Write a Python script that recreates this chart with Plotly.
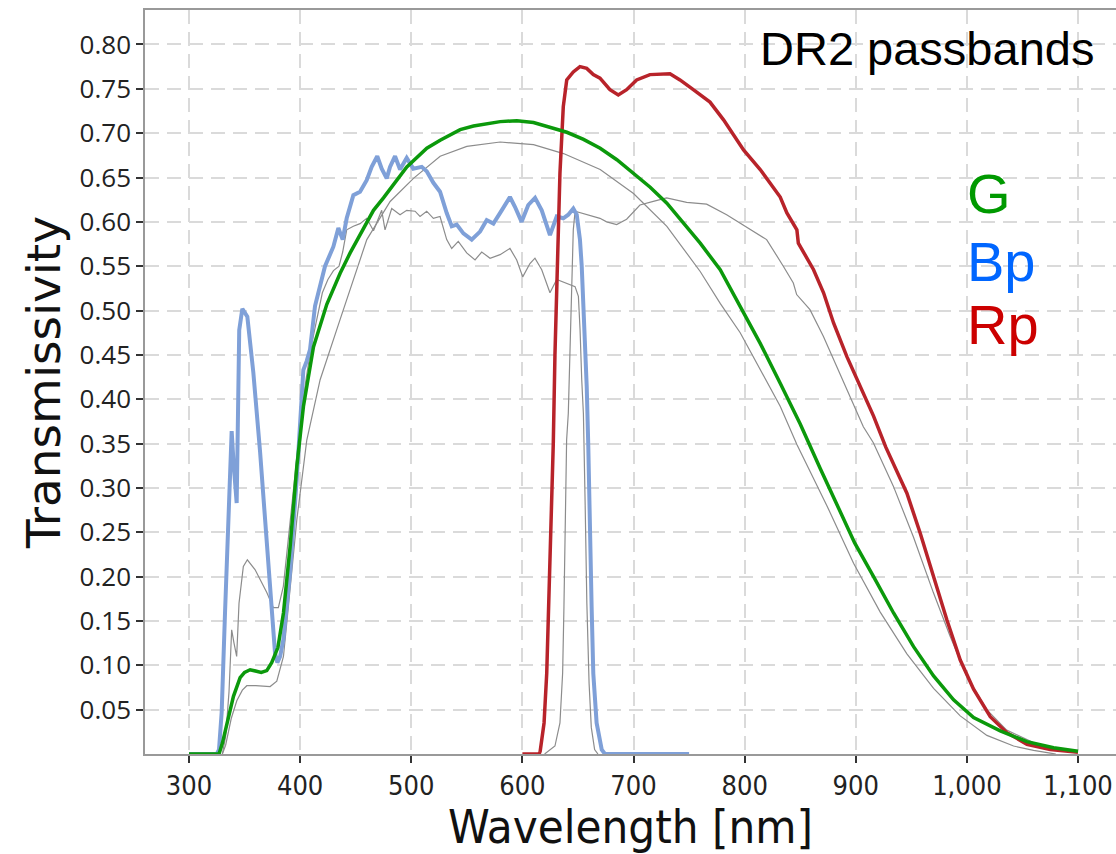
import plotly.graph_objects as go

# ---------------- data ----------------
g_wl = [300, 327, 330, 334, 340, 346, 350, 355, 360, 365, 370, 374.4, 380, 385, 391, 397, 403, 412,
        424, 436, 445, 466, 475, 490, 496, 514, 526, 544, 556, 580, 595, 610, 625, 640, 655, 670, 685,
        700, 715, 730, 745, 760, 778, 796, 814, 832, 850, 868, 886, 899, 916, 934, 952, 970, 988,
        1006, 1030, 1054, 1078, 1100]
g_val = [0, 0, 0.012, 0.035, 0.065, 0.086, 0.092, 0.095, 0.094, 0.092, 0.094, 0.103, 0.12, 0.159,
         0.234, 0.324, 0.392, 0.459, 0.507, 0.542, 0.565, 0.613, 0.627, 0.652, 0.662, 0.683, 0.692,
         0.704, 0.708, 0.713, 0.714, 0.712, 0.707, 0.701, 0.693, 0.683, 0.670, 0.655, 0.639, 0.621,
         0.599, 0.576, 0.546, 0.505, 0.463, 0.418, 0.372, 0.322, 0.272, 0.238, 0.200, 0.159, 0.121,
         0.088, 0.061, 0.041, 0.026, 0.014, 0.007, 0.003]

bp_wl = [300, 325, 327, 329.4, 332.4, 334.5, 336.9, 338.4, 340, 342.9, 345.2, 348, 352.5, 357.9, 364,
         370, 374.4, 377.4, 379.5, 382, 384.9, 390.9, 396.9, 402.9, 405.9, 408.9, 413.4, 422.4, 429.9,
         434.4, 438.3, 441.9, 447.9, 453.9, 459.9, 464.4, 469.4, 473.4, 477.9, 480.9, 485.4, 489.9,
         495.9, 501.8, 509.4, 513.9, 519.9, 525.9, 531.9, 536.4, 540.9, 546.9, 554.4, 561.9, 567.9,
         573.9, 581.4, 588.8, 593.3, 599.3, 605.3, 611.4, 617.4, 624.8, 630.9, 636.8, 641.3, 645.8,
         648.9, 651.8, 653.4, 655.4, 657.9, 659.3, 660.0, 660.6, 662.3, 663.8, 666.8, 671.4, 674.3, 750]
bp_val = [0, 0, 0.005, 0.047, 0.159, 0.234, 0.302, 0.364, 0.33, 0.283, 0.478, 0.502, 0.493, 0.430,
          0.340, 0.242, 0.159, 0.114, 0.103, 0.11, 0.129, 0.204, 0.309, 0.433, 0.443, 0.456, 0.505,
          0.550, 0.572, 0.593, 0.580, 0.604, 0.630, 0.634, 0.647, 0.662, 0.674, 0.660, 0.649, 0.662,
          0.674, 0.659, 0.672, 0.660, 0.662, 0.657, 0.644, 0.634, 0.610, 0.595, 0.597, 0.587, 0.580,
          0.589, 0.602, 0.598, 0.613, 0.628, 0.617, 0.600, 0.619, 0.627, 0.613, 0.585, 0.606, 0.604,
          0.608, 0.615, 0.608, 0.580, 0.550, 0.497, 0.414, 0.347, 0.30, 0.242, 0.166, 0.091, 0.035,
          0.005, 0, 0]

rp_wl = [600, 615, 616, 619.5, 621.9, 624.3, 626.4, 627.8, 629.3, 630.9, 632.3, 633.8, 636.8, 639.9,
         645.8, 651.8, 657.9, 663.8, 669.8, 678.8, 686.3, 693.8, 702.8, 714.8, 732.8, 741.8, 753.8,
         768.8, 781, 799, 814, 823, 832, 838, 844, 847, 848.3, 862, 871, 880, 892, 904, 910, 916, 927,
         946, 958, 970, 982, 994, 1006, 1021, 1036, 1054, 1075, 1100]
rp_val = [0, 0, 0.003, 0.035, 0.091, 0.185, 0.279, 0.35, 0.45, 0.535, 0.610, 0.655, 0.730, 0.760,
          0.769, 0.775, 0.773, 0.766, 0.762, 0.749, 0.743, 0.749, 0.760, 0.766, 0.767, 0.760, 0.749,
          0.735, 0.715, 0.681, 0.659, 0.644, 0.628, 0.610, 0.598, 0.591, 0.576, 0.546, 0.520, 0.486,
          0.448, 0.414, 0.399, 0.381, 0.346, 0.294, 0.249, 0.200, 0.151, 0.106, 0.073, 0.042, 0.024,
          0.011, 0.005, 0.002]

old_g_wl = [330, 333, 338, 343, 348, 352, 360, 373, 379, 385, 389.4, 397, 406, 418, 436, 439, 448,
            460, 481, 502, 526, 550, 580, 610, 637, 670, 700, 730, 760, 778, 796, 814, 832, 847, 874,
            898, 922, 946, 970, 994, 1018, 1042, 1060, 1075, 1080]
old_g_val = [0, 0.01, 0.04, 0.06, 0.072, 0.077, 0.077, 0.076, 0.082, 0.110, 0.166, 0.264, 0.354, 0.422,
             0.490, 0.501, 0.535, 0.580, 0.623, 0.649, 0.674, 0.685, 0.690, 0.687, 0.677, 0.659, 0.632,
             0.595, 0.544, 0.508, 0.475, 0.433, 0.392, 0.349, 0.28, 0.215, 0.160, 0.113, 0.074, 0.043,
             0.021, 0.009, 0.004, 0.001, 0]

old_bp_wl = [330, 333, 336, 338.4, 340.5, 342.9, 345, 348.9, 352.5, 359.4, 370, 375.9, 380.4, 384.9,
             390, 395, 400, 405, 410, 415, 420, 425, 430, 435, 438.3, 441.9, 447.9, 453.9, 459.9, 466,
             473.4, 476.4, 482.4, 489.9, 495.9, 503.4, 507.9, 513.9, 519.9, 525.9, 531.9, 536.4, 542.3,
             549.9, 557.4, 563.4, 570.9, 579.9, 588.8, 594.9, 600.3, 606.8, 611.3, 617.4, 624.8, 630.9,
             639.8, 647.4, 650.4, 651.9, 653.4, 654.9, 656.5, 658, 660, 662, 665, 668]
old_bp_val = [0, 0.02, 0.07, 0.140, 0.125, 0.110, 0.17, 0.2115, 0.219, 0.208, 0.182, 0.165, 0.165,
              0.189, 0.25, 0.31, 0.37, 0.42, 0.46, 0.49, 0.52, 0.535, 0.545, 0.55, 0.566, 0.591, 0.595,
              0.598, 0.604, 0.59, 0.613, 0.591, 0.615, 0.608, 0.613, 0.612, 0.606, 0.612, 0.604, 0.606,
              0.580, 0.570, 0.578, 0.565, 0.557, 0.566, 0.559, 0.563, 0.570, 0.557, 0.538, 0.553, 0.559,
              0.546, 0.520, 0.535, 0.531, 0.527, 0.516, 0.478, 0.422, 0.384, 0.28, 0.17, 0.08, 0.03,
              0.005, 0]

old_rp_wl = [620, 623.3, 629.3, 633.8, 636.2, 637.4, 638.6, 639.8, 641.3, 643.4, 645.8, 647.4, 653.4,
             663.8, 669.8, 675.8, 684.8, 693.8, 705.8, 717.8, 729.8, 747.8, 765.8, 783.8, 801.8, 819.8,
             834.8, 843.8, 846.8, 858.8, 870.8, 882.8, 894.8, 906.8, 915.8, 933.8, 951.8, 969.8, 984.8,
             999.8, 1017.8, 1035.8, 1059.8, 1083.8, 1100]
old_rp_val = [0, 0.003, 0.009, 0.035, 0.091, 0.166, 0.260, 0.354, 0.384, 0.497, 0.591, 0.612, 0.610,
              0.606, 0.604, 0.600, 0.597, 0.603, 0.619, 0.623, 0.627, 0.622, 0.620, 0.608, 0.594, 0.580,
              0.550, 0.531, 0.518, 0.501, 0.471, 0.437, 0.403, 0.369, 0.351, 0.302, 0.245, 0.182, 0.133,
              0.088, 0.050, 0.027, 0.013, 0.005, 0.002]

x_ticks = [300, 400, 500, 600, 700, 800, 900, 1000, 1100]
x_tick_text = ["300", "400", "500", "600", "700", "800", "900", "1,000", "1,100"]
y_ticks = [0.05, 0.10, 0.15, 0.20, 0.25, 0.30, 0.35, 0.40, 0.45, 0.50, 0.55, 0.60, 0.65, 0.70, 0.75, 0.80]
y_tick_text = ["%.2f" % v for v in y_ticks]

# ---------------- figure ----------------
GRAY = "#8c8c8c"
fig = go.Figure()
for wl, val, name in [(old_g_wl, old_g_val, "G (previous)"), (old_bp_wl, old_bp_val, "Bp (previous)"),
                      (old_rp_wl, old_rp_val, "Rp (previous)")]:
    fig.add_trace(go.Scatter(x=wl, y=val, mode="lines", name=name,
                             line=dict(color=GRAY, width=1.2)))
fig.add_trace(go.Scatter(x=bp_wl, y=bp_val, mode="lines", name="Bp",
                         line=dict(color="#7fa0d8", width=4)))
fig.add_trace(go.Scatter(x=rp_wl, y=rp_val, mode="lines", name="Rp",
                         line=dict(color="#b8232a", width=3.5)))
fig.add_trace(go.Scatter(x=g_wl, y=g_val, mode="lines", name="G",
                         line=dict(color="#0b990b", width=3.5)))

W, H = 1116, 854
L, R, T, B = 145, 0, 10, 100
px_per_nm = 1.1113
x0 = 300 - (189 - L) / px_per_nm
x1 = x0 + (W - L - R) / px_per_nm
y_top = (754.4 - T) / 887.4

grid = dict(showgrid=True, gridcolor="#dadada", gridwidth=1.5, griddash="14px,8px")
NARROW = "DejaVu Sans Condensed, Liberation Sans Narrow, sans-serif"

fig.update_layout(
    width=W, height=H,
    margin=dict(l=L, r=R, t=T, b=B),
    paper_bgcolor="white", plot_bgcolor="white",
    showlegend=False,
    xaxis=dict(range=[x0, x1], tickvals=x_ticks, ticktext=x_tick_text,
               ticks="outside", ticklen=7, tickwidth=1.5, tickcolor="#333",
               ticklabeloverflow="allow",
               tickfont=dict(family=NARROW, size=27, color="#222"),
               showline=True, linecolor="#999", linewidth=1.5, mirror=True,
               zeroline=False,
               title=dict(text="Wavelength [nm]", standoff=10,
                          font=dict(family=NARROW, size=47, color="#111")),
               **grid),
    yaxis=dict(range=[0, y_top], tickvals=y_ticks, ticktext=y_tick_text,
               ticks="outside", ticklen=7, tickwidth=1.5, tickcolor="#333",
               tickfont=dict(family="Open Sans, sans-serif", size=26, color="#222"),
               showline=True, linecolor="#999", linewidth=1.5, mirror=False,
               zeroline=False,
               title=dict(text="Transmissivity", standoff=4,
                          font=dict(family="DejaVu Sans, sans-serif", size=47, color="#111")),
               **grid),
)

def px2paper(px, py):
    return (px - L) / (W - L - R), (H - B - py) / (H - T - B)

ax, ay = px2paper(758, 49)
fig.add_annotation(x=ax, y=ay, xref="paper", yref="paper", xanchor="left", yanchor="middle",
                   text="DR2 passbands", showarrow=False,
                   font=dict(family="Liberation Sans, Arial, sans-serif", size=47, color="black"))
for label, color, py in [("G", "#009900", 193), ("Bp", "#0066ff", 261), ("Rp", "#cc0000", 325)]:
    ax, ay = px2paper(965, py)
    fig.add_annotation(x=ax, y=ay, xref="paper", yref="paper", xanchor="left", yanchor="middle",
                       text=label, showarrow=False,
                       font=dict(family="Liberation Sans, Arial, sans-serif", size=56, color=color))

fig.write_html("out.html")
